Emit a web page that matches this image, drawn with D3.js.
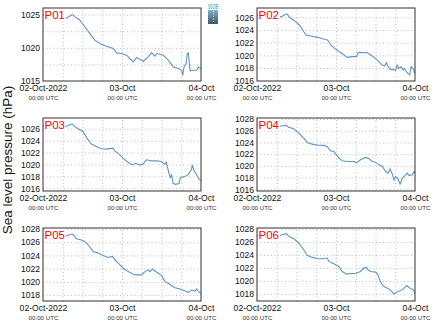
<!DOCTYPE html>
<html><head><meta charset="utf-8">
<script src="https://cdn.jsdelivr.net/npm/d3@7"></script>
<style>
html,body{margin:0;padding:0;background:#fff;}
svg{display:block;font-family:"Liberation Sans",Arial,sans-serif;}
</style></head>
<body>
<svg id="chart" width="435" height="327"></svg>
<script>
// ---- DATA ----
const panelNames = ["P01","P02","P03","P04","P05","P06"];
const xTickLabels = ["02-Oct-2022","03-Oct","04-Oct"];
const xTickSub = "00:00 UTC";
const yTitle = "Sea level pressure (hPa)";

const hoursP01 = [0,2.0,4.06,6.09,7.61,8.93,9.64,11.17,12.69,14.21,15.74,17.26,19.29,21.32,22.34,23.86,25.38,27.41,28.43,29.44,30.46,31.98,32.99,34.01,34.52,35.53,36.55,38.07,39.59,41.12,42.13,42.44,42.84,43.45,43.86,44.16,44.47,44.67,45.69,46.70,47.21,48];
const pressP01 = [1024.95,1024.44,1024.19,1024.19,1024.60,1025.00,1024.70,1024.19,1023.18,1022.17,1021.16,1020.66,1020.25,1019.90,1019.24,1019.14,1018.89,1017.88,1018.54,1018.23,1017.98,1018.64,1019.24,1018.74,1019.14,1019.04,1018.89,1018.13,1017.12,1016.87,1016.62,1015.86,1017.12,1017.63,1019.14,1019.24,1017.63,1016.52,1016.62,1016.62,1017.12,1016.87];

const hoursP02 = [0,1.31,2.82,4.33,5.33,6.34,7.34,8.35,9.15,9.86,11.37,12.88,13.88,14.89,16.40,18.41,20.42,21.43,22.43,23.94,25.45,26.46,27.46,28.97,30.28,30.68,31.29,32.49,33.50,34.51,36.02,37.02,38.03,38.73,39.34,39.74,40.54,41.35,42.05,42.56,43.06,43.76,44.37,44.77,45.57,46.38,46.78,47.38,48];
const pressP02 = [1026.37,1026.11,1025.68,1025.84,1026.0,1025.95,1026.11,1026.37,1026.53,1026.0,1025.47,1024.79,1024.0,1023.21,1023.05,1022.84,1022.53,1022.42,1021.63,1020.95,1020.42,1020.05,1019.68,1019.79,1019.79,1020.42,1020.47,1020.42,1020.42,1020.05,1019.53,1019.0,1018.47,1018.32,1018.84,1018.32,1017.79,1017.79,1017.58,1018.47,1017.95,1018.21,1017.68,1017.95,1017.26,1016.89,1018.21,1017.95,1017.16];

const hoursP03 = [0,1.52,3.04,4.05,5.57,7.09,8.10,8.91,9.62,10.63,12.15,13.37,14.68,16.20,17.72,19.24,21.27,21.77,22.78,24.30,25.82,27.14,28.15,29.37,30.38,31.39,32.91,34.43,35.95,36.96,37.47,37.77,38.28,38.68,39.09,39.49,40.30,41.32,41.72,43.04,44.05,45.06,45.37,45.77,46.58,47.39,48];
const pressP03 = [1026.56,1026.22,1026.0,1026.22,1026.34,1026.39,1026.67,1026.79,1026.39,1026.0,1025.55,1024.43,1023.42,1023.02,1022.63,1022.57,1022.74,1022.29,1021.90,1021.06,1020.38,1019.93,1020.21,1019.93,1020.04,1020.78,1020.61,1020.61,1020.49,1020.04,1020.38,1019.65,1018.53,1017.80,1018.25,1016.84,1016.67,1016.79,1017.80,1017.97,1018.25,1019.09,1019.93,1019.09,1018.36,1017.57,1017.24];

const hoursP04 = [0,1.52,3.05,4.57,6.09,7.61,8.93,9.64,11.17,12.69,14.21,15.23,16.75,18.27,20.30,21.32,22.34,23.35,24.87,25.89,27.41,29.44,30.25,31.47,32.99,34.01,35.03,36.04,37.06,38.07,39.09,39.80,40.41,41.12,41.62,42.13,42.84,43.45,44.16,45.18,45.69,46.19,47.21,47.72,48];
const pressP04 = [1027.03,1026.91,1026.57,1026.57,1026.69,1026.80,1026.91,1026.57,1026.34,1025.60,1024.74,1024.0,1023.71,1023.54,1023.49,1023.31,1022.57,1022.46,1021.31,1020.86,1020.74,1020.74,1020.51,1021.03,1021.43,1021.20,1020.74,1020.63,1020.17,1019.89,1019.03,1018.74,1019.49,1018.57,1017.60,1018.17,1017.77,1016.86,1017.89,1018.46,1018.74,1018.34,1018.46,1019.03,1018.74];

const hoursP05 = [0,1.52,3.05,4.57,6.09,7.61,8.93,9.64,10.15,11.68,12.69,13.71,15.23,16.75,18.27,19.80,21.12,21.83,22.84,24.37,25.89,27.41,28.43,29.95,30.96,31.98,32.49,33.30,34.01,35.03,36.04,37.06,38.07,39.09,40.10,41.62,43.15,44.16,45.18,46.19,46.70,47.21,48];
const pressP05 = [1027.04,1026.73,1026.63,1026.63,1026.83,1027.04,1027.24,1026.88,1026.53,1026.32,1026.12,1025.61,1024.60,1024.35,1023.99,1023.69,1023.84,1023.33,1022.82,1022.06,1021.55,1021.15,1021.05,1021.05,1021.55,1021.81,1021.55,1021.96,1021.65,1021.30,1020.94,1020.03,1019.78,1019.42,1019.12,1018.91,1018.61,1018.41,1018.76,1018.61,1018.91,1018.51,1018.25];

const hoursP06 = [0,1.52,3.05,4.57,6.09,7.61,8.93,9.64,11.17,12.69,14.21,15.23,16.75,18.78,20.30,21.32,21.83,23.35,24.87,25.89,27.21,28.43,29.95,31.47,32.49,33.30,33.71,34.52,36.04,36.75,37.36,38.07,39.09,40.10,41.12,41.62,42.44,43.45,44.47,45.48,46.19,46.90,47.51,48];
const pressP06 = [1027.02,1026.61,1026.51,1026.71,1026.87,1027.12,1027.28,1026.87,1026.51,1025.84,1024.80,1023.93,1023.62,1023.41,1023.41,1023.52,1023.0,1022.64,1022.23,1021.45,1021.04,1021.14,1021.14,1021.45,1021.97,1022.07,1021.71,1021.45,1021.35,1020.94,1020.01,1019.39,1018.98,1018.77,1018.26,1017.95,1018.26,1018.46,1018.77,1019.29,1018.98,1018.77,1018.62,1018.10];

const yDomains = [[1015,1026],[1015.95,1027.47],[1015.55,1027.8],[1015.7,1028.17],[1017.1,1028.15],[1016.9,1028.15]];
const yTickLabels = [[1015,1020,1025],[1016,1018,1020,1022,1024,1026],[1016,1018,1020,1022,1024,1026],[1016,1018,1020,1022,1024,1026,1028],[1018,1020,1022,1024,1026,1028],[1018,1020,1022,1024,1026,1028]];
const yGridStep = [2.5,2,2,2,2,2];

const hoursAll = [hoursP01,hoursP02,hoursP03,hoursP04,hoursP05,hoursP06];
const pressAll = [pressP01,pressP02,pressP03,pressP04,pressP05,pressP06];

// ---- LAYOUT ----
const colLeft = [43, 257];
const rowTop = [8, 118, 228];
const pw = 158, ph = 73;
const t0 = Date.UTC(2022,9,2,0,0);
const t1 = Date.UTC(2022,9,4,0,0);
const lineColor = "#6394c4";

const svg = d3.select("#chart");

// y-axis title
svg.append("text")
  .attr("transform","translate(12,160) rotate(-90)")
  .attr("text-anchor","middle")
  .attr("font-size",13.5)
  .attr("fill","#111")
  .text(yTitle);

// logo
const defs = svg.append("defs");
const grad = defs.append("linearGradient").attr("id","lg").attr("x1",0).attr("y1",0).attr("x2",0).attr("y2",1);
grad.append("stop").attr("offset","0%").attr("stop-color","#7fb4c4");
grad.append("stop").attr("offset","100%").attr("stop-color","#3c5868");
const logo = svg.append("g").attr("transform","translate(208,2)");
logo.append("text").attr("x",5).attr("y",6.5).attr("text-anchor","middle")
  .attr("font-size",7).attr("font-weight","bold").attr("fill","#38c0d4")
  .attr("textLength",10).attr("lengthAdjust","spacingAndGlyphs").text("SOCIB");
logo.append("rect").attr("x",0).attr("y",8).attr("width",10).attr("height",14).attr("fill","url(#lg)");
logo.append("line").attr("x1",5.5).attr("x2",5.5).attr("y1",9).attr("y2",20)
  .attr("stroke","#fff").attr("stroke-dasharray","1,1.5").attr("stroke-width",0.8);

panelNames.forEach((name,i)=>{
  const left = colLeft[i%2], top = rowTop[Math.floor(i/2)];
  const g = svg.append("g").attr("transform",`translate(${left},${top})`);
  const x = d3.scaleUtc().domain([new Date(t0), new Date(t1)]).range([0,pw]);
  const y = d3.scaleLinear().domain(yDomains[i]).range([ph,0]);

  // vertical grid every 6h
  const vt = d3.range(6,48,6).map(h=>new Date(t0+h*3600e3));
  g.append("g").attr("transform",`translate(0,${ph})`)
    .call(d3.axisBottom(x).tickValues(vt).tickSize(-ph).tickFormat(""))
    .call(a=>a.select(".domain").remove())
    .call(a=>a.selectAll("line").attr("stroke","#bbb").attr("stroke-dasharray","1,2.5"));
  // horizontal grid
  const st = yGridStep[i];
  const gv = d3.range(Math.ceil(yDomains[i][0]/st)*st, yDomains[i][1], st).filter(v=>v>yDomains[i][0]+0.2);
  g.append("g")
    .call(d3.axisLeft(y).tickValues(gv).tickSize(-pw).tickFormat(""))
    .call(a=>a.select(".domain").remove())
    .call(a=>a.selectAll("line").attr("stroke","#bbb").attr("stroke-dasharray","1,2.5"));

  // line
  const pts = hoursAll[i].map((h,k)=>({t:new Date(t0+h*3600e3), p:pressAll[i][k]}));
  g.append("path").datum(pts)
    .attr("fill","none").attr("stroke",lineColor).attr("stroke-width",1.1)
    .attr("d", d3.line().x(d=>x(d.t)).y(d=>y(d.p)));

  // frame
  g.append("rect").attr("x",0).attr("y",0).attr("width",pw).attr("height",ph)
    .attr("fill","none").attr("stroke","#333").attr("stroke-width",1);

  // y axis labels
  g.append("g")
    .call(d3.axisLeft(y).tickValues(yTickLabels[i]).tickSize(0).tickPadding(3).tickFormat(d3.format("d")))
    .call(a=>a.select(".domain").remove())
    .call(a=>a.selectAll("text").attr("font-size",8.6).attr("fill","#111").attr("font-family","Liberation Sans, Arial, sans-serif"));

  // x axis labels
  const xt = [0,24,48].map(h=>new Date(t0+h*3600e3));
  const xa = g.append("g").attr("transform",`translate(0,${ph})`)
    .call(d3.axisBottom(x).tickValues(xt).tickSize(0).tickPadding(0).tickFormat((d,k)=>xTickLabels[k]));
  xa.select(".domain").remove();
  xa.selectAll("text").each(function(d,k){
    const t = d3.select(this);
    t.text(null).attr("y",0).attr("dy",null).attr("font-family","Liberation Sans, Arial, sans-serif");
    t.append("tspan").attr("x",0).attr("y",10).attr("font-size",8.6).attr("fill","#111").text(xTickLabels[k]);
    t.append("tspan").attr("x",0).attr("y",19).attr("font-size",6.2).attr("fill","#333").text(xTickSub);
  });

  // panel label
  g.append("rect").attr("x",1).attr("y",1).attr("width",22).attr("height",12).attr("fill","#fff");
  g.append("text").attr("x",1.5).attr("y",11.3).attr("font-size",11.5).attr("fill","#ff0000").text(name);
});
</script>
</body></html>
